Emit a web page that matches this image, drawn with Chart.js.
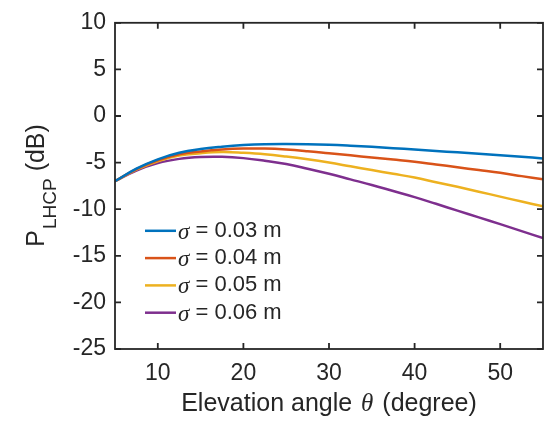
<!DOCTYPE html>
<html>
<head>
<meta charset="utf-8">
<script src="https://cdn.jsdelivr.net/npm/chart.js@4.4.0/dist/chart.umd.min.js"></script>
<style>
	html, body { margin: 0; padding: 0; background: #fff; }
</style>
</head>
<body>
<canvas id="lhcpChart" width="549" height="423"></canvas>
<script>

// elevation angle (degree)
var angles = [5, 7.5, 10, 12.5, 15, 17.5, 20, 22.5, 25, 27.5, 30, 32.5, 35, 37.5, 40, 42.5, 45, 47.5, 50, 52.5, 55];

// P_LHCP (dB) for each surface roughness
var sigma003 = [-7.0, -5.65, -4.65, -3.95, -3.55, -3.3, -3.12, -3.02, -3.0, -3.02, -3.08, -3.18, -3.3, -3.45, -3.6, -3.75, -3.9, -4.05, -4.2, -4.38, -4.55];
var sigma004 = [-7.0, -5.7, -4.75, -4.1, -3.8, -3.6, -3.5, -3.5, -3.6, -3.78, -4.0, -4.22, -4.45, -4.67, -4.9, -5.2, -5.5, -5.8, -6.1, -6.45, -6.8];
var sigma005 = [-7.0, -5.75, -4.85, -4.25, -4.0, -3.87, -3.95, -4.1, -4.35, -4.65, -5.0, -5.4, -5.8, -6.2, -6.6, -7.1, -7.6, -8.12, -8.65, -9.18, -9.7];
var sigma006 = [-7.0, -5.85, -5.05, -4.6, -4.4, -4.38, -4.52, -4.8, -5.15, -5.65, -6.2, -6.8, -7.4, -8.05, -8.7, -9.42, -10.15, -10.88, -11.6, -12.35, -13.1];

var seriesLabels = ["σ = 0.03 m", "σ = 0.04 m", "σ = 0.05 m", "σ = 0.06 m"];
var seriesColors = ["#0072BD", "#D95319", "#EDB120", "#7E2F8E"];

var xTicks = [10, 20, 30, 40, 50];
var yTicks = [10, 5, 0, -5, -10, -15, -20, -25];

var axisColor = "#262626";
var sansFont = "'Liberation Sans', Arial, sans-serif";
var serifItalic = "'Liberation Serif', serif";

var toPoints = function(values) {
	var pts = [];
	for (var i = 0; i < angles.length; i++) {
		pts.push({ x: angles[i], y: values[i] });
	}
	return pts;
};

var allSeries = [sigma003, sigma004, sigma005, sigma006];
var datasets = [];
for (var i = 0; i < allSeries.length; i++) {
	datasets.push({
		label: seriesLabels[i],
		data: toPoints(allSeries[i]),
		borderColor: seriesColors[i],
		backgroundColor: seriesColors[i],
		borderWidth: 2.5,
		pointRadius: 0,
		tension: 0.4,
		fill: false
	});
}

// box, inward ticks, legend and axis titles (MATLAB look)
var matlabFrame = {
	id: "matlabFrame",
	afterDraw: function(chart) {
		var ctx = chart.ctx;
		var area = chart.chartArea;
		var xs = chart.scales.x;
		var ys = chart.scales.y;
		var tick = 6;

		ctx.save();
		ctx.strokeStyle = axisColor;
		ctx.lineWidth = 1.8;
		ctx.strokeRect(area.left, area.top, area.right - area.left, area.bottom - area.top);

		ctx.beginPath();
		for (var i = 0; i < xTicks.length; i++) {
			var px = xs.getPixelForValue(xTicks[i]);
			ctx.moveTo(px, area.bottom);
			ctx.lineTo(px, area.bottom - tick);
			ctx.moveTo(px, area.top);
			ctx.lineTo(px, area.top + tick);
		}
		for (var j = 0; j < yTicks.length; j++) {
			var py = ys.getPixelForValue(yTicks[j]);
			ctx.moveTo(area.left, py);
			ctx.lineTo(area.left + tick, py);
			ctx.moveTo(area.right, py);
			ctx.lineTo(area.right - tick, py);
		}
		ctx.stroke();

		// legend
		var lx = area.left + 30;
		var ly = area.top + 208;
		ctx.textBaseline = "middle";
		ctx.textAlign = "left";
		for (var k = 0; k < chart.data.datasets.length; k++) {
			var ds = chart.data.datasets[k];
			var rowY = ly + k * 27.3;
			ctx.strokeStyle = ds.borderColor;
			ctx.lineWidth = 2.5;
			ctx.beginPath();
			ctx.moveTo(lx, rowY);
			ctx.lineTo(lx + 31, rowY);
			ctx.stroke();
			ctx.fillStyle = axisColor;
			ctx.font = "italic 23px " + serifItalic;
			ctx.fillText(ds.label.charAt(0), lx + 33, rowY + 2);
			var w = ctx.measureText(ds.label.charAt(0)).width;
			ctx.font = "22px " + sansFont;
			ctx.fillText(ds.label.substring(1), lx + 33 + w, rowY);
		}

		// x axis title
		ctx.textBaseline = "alphabetic";
		ctx.fillStyle = axisColor;
		var partA = "Elevation angle ";
		var partB = "θ";
		var partC = " (degree)";
		ctx.font = "25px " + sansFont;
		var wA = ctx.measureText(partA).width;
		var wC = ctx.measureText(partC).width;
		ctx.font = "italic 25px " + serifItalic;
		var wB = ctx.measureText(partB).width + 4;
		var cx = (area.left + area.right) / 2;
		var sx = cx - (wA + wB + wC) / 2;
		ctx.font = "25px " + sansFont;
		ctx.fillText(partA, sx, 411);
		ctx.font = "italic 25px " + serifItalic;
		ctx.fillText(partB, sx + wA + 2, 411);
		ctx.font = "25px " + sansFont;
		ctx.fillText(partC, sx + wA + wB, 411);

		// y axis title with subscript
		ctx.save();
		ctx.translate(44, (area.top + area.bottom) / 2);
		ctx.rotate(-Math.PI / 2);
		ctx.font = "25px " + sansFont;
		var wP = ctx.measureText("P").width;
		var wD = ctx.measureText(" (dB)").width;
		ctx.font = "19px " + sansFont;
		var wL = ctx.measureText("LHCP").width;
		var ty = -(wP + wL + wD) / 2;
		ctx.font = "25px " + sansFont;
		ctx.fillText("P", ty, 0);
		ctx.font = "19px " + sansFont;
		ctx.fillText("LHCP", ty + wP + 1, 12);
		ctx.font = "25px " + sansFont;
		ctx.fillText(" (dB)", ty + wP + wL + 1, 0);
		ctx.restore();

		ctx.restore();
	}
};

var context = document.getElementById("lhcpChart").getContext("2d");
var lhcpChart = new Chart(context, {
	type: "line",
	data: { datasets: datasets },
	options: {
		responsive: false,
		animation: false,
		layout: { padding: { top: 20, right: 6, left: 0, bottom: 0 } },
		plugins: {
			legend: { display: false },
			tooltip: { enabled: false }
		},
		scales: {
			x: {
				type: "linear",
				min: 5,
				max: 55,
				grid: { display: false, drawTicks: false },
				border: { display: false },
				afterBuildTicks: function(scale) {
					scale.ticks = xTicks.map(function(v) { return { value: v }; });
				},
				afterFit: function(scale) { scale.height = 74; },
				ticks: {
					padding: 11,
					color: axisColor,
					font: { family: sansFont, size: 23 },
					maxRotation: 0
				}
			},
			y: {
				min: -25,
				max: 10,
				grid: { display: false, drawTicks: false },
				border: { display: false },
				afterBuildTicks: function(scale) {
					scale.ticks = yTicks.map(function(v) { return { value: v }; });
				},
				afterFit: function(scale) { scale.width = 115; },
				ticks: {
					padding: 9,
					color: axisColor,
					font: { family: sansFont, size: 23 }
				}
			}
		}
	},
	plugins: [matlabFrame]
});

</script>
</body>
</html>
